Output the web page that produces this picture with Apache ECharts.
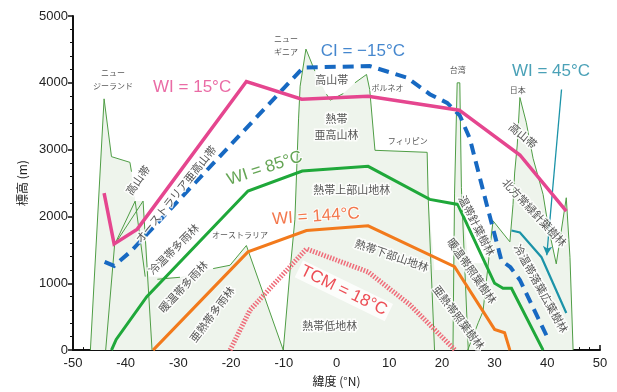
<!DOCTYPE html>
<html>
<head>
<meta charset="utf-8">
<script src="https://cdn.jsdelivr.net/npm/echarts@6/dist/echarts.min.js"></script>
<style>
html,body{margin:0;padding:0;background:#fff}
#chart{width:617px;height:392px}
</style>
</head>
<body>
<div id="chart"></div>
<script>
// Points are [latitude (°N), elevation (m)]

// Climate-index isolines
const wi15 = [[-44.1,2350],[-42.2,1590],[-37.8,1810],[-17.1,4020],[-6.6,3755],[6,3800],[23.3,3590],[34.8,2920],[43.6,2080]];
const ciMinus15 = [[-44,1320],[-42.2,1260],[-39,1480],[-6.3,4230],[6.3,4250],[13.3,4080],[17.7,3830],[21,3700],[23.4,3510],[25.3,3165],[28.5,2180],[31.3,1340],[33,1240],[34.8,1050],[40.2,160]];
const wi45 = [[33.2,1790],[34.8,1760],[38.9,1390],[43.6,555]];
const wi85 = [[-42.7,0],[-41.8,160],[-36,800],[-16.8,2380],[-6.5,2680],[6,2750],[17.7,2255],[23,2180],[30,1000],[31.6,925],[33.2,925],[39.2,0]];
const wi144 = [[-34.8,0],[-16.8,1470],[-5.7,1790],[6,1860],[22.4,1250],[30,310],[31.9,260],[32.9,0]];
const tcm18 = [[-20.2,0],[-16.4,600],[-5.7,1515],[6,1170],[13.9,680],[22.5,0]];

// Mountain profiles
const newZealand = [[-46.7,0],[-44.1,3760],[-42.7,2895],[-39.2,2810],[-38.9,2670]];
const ausAlpsA = [[-43.8,0],[-42.1,1580],[-36.7,2230],[-35.0,0]];
const ausAlpsB = [[-42.1,1580],[-38.2,2230],[-36.3,1100]];
const ausRidge = [[-34,1060],[-29.7,1090]];
const queensland = [[-23.4,1220],[-20.2,1270],[-17.1,1565],[-10.1,0]];
const newGuinea = [[-10.1,0],[-8.8,1200],[-7.9,1950],[-7.2,3460],[-6.9,3950],[-5.8,4505],[-4.1,4175]];
const newGuineaRidge = [[-1.9,3830],[-1.2,3740],[1.3,3840]];
const borneoPhilippines = [[3.5,4000],[5.7,4125],[6.3,3900],[7.3,2990],[17.2,2960],[17.4,2280],[18.6,0]];
const taiwan = [[22.1,0],[22.4,2350],[22.9,4000],[23.4,4000],[23.7,2430],[25.0,0]];
const japan = [[24.9,0],[26.9,410],[27.8,580],[29.7,1935],[32.9,1620],[33.5,2180],[33.8,2650],[34.3,3070],[34.8,3780],[36.0,3410],[37.3,2870],[39.2,2330],[40.2,1840],[41.7,1290],[43.6,2280],[44.3,1390],[44.9,0]];

// Shaded extent of the mountain terrain
const terrainShade = [[-46.7,0],[-44.1,3760],[-42.7,2895],[-39.2,2810],[-38.9,2670],[-38.2,2230],[-36.7,2230],[-35.6,1100],[-29.7,1090],[-23.4,1220],[-20.2,1270],[-17.1,1565],[-10.1,0],[-8.8,1200],[-7.9,1950],[-7.2,3460],[-6.9,3950],[-5.8,4505],[-4.1,4175],[-1.9,3830],[-1.2,3740],[1.3,3840],[3.5,4000],[5.7,4125],[6.3,3900],[7.3,2990],[17.2,2960],[17.4,2280],[18.6,1200],[22.1,1200],[22.4,2350],[22.9,4000],[23.4,4000],[23.7,2430],[25.0,1300],[27.8,1300],[29.7,1935],[32.9,1620],[33.5,2180],[33.8,2650],[34.3,3070],[34.8,3780],[36.0,3410],[37.3,2870],[39.2,2330],[40.2,1840],[41.7,1290],[43.6,2280],[44.3,1390],[44.9,0]];

// Leader from the WI = 45°C caption to its isoline
const wi45Leader = [[42.7,3900],[39.9,1420]];

const JP = '"Noto Sans CJK JP", "Noto Sans", sans-serif';
const LAT = '"Liberation Sans", Arial, sans-serif';

const colors = {
  wi15: '#e5468f', ci: '#1769c2', wi45: '#1b93a8', wi85: '#1fa83a',
  wi144: '#f27a1c', tcm: '#ef6d7a', profile: '#4f9d45', shade: '#eef4ec'
};

// Captions: text, anchor [lat, elev], rotation, colour
const isolineCaptions = [
  { text: 'WI = 15°C',  at: [-27.4,3935], rot: 0,   color: '#e5468f' },
  { text: 'CI = −15°C', at: [5.0,4465],   rot: 0,   color: '#1769c2' },
  { text: 'WI = 45°C',  at: [40.7,4170],  rot: 0,   color: '#1d8aa5' },
  { text: 'WI = 85°C',  at: [-13.6,2720], rot: 18,  color: '#3f8f2a' },
  { text: 'WI = 144°C', at: [-3.9,2000],  rot: 4,   color: '#f0551f' },
  { text: 'TCM = 18°C', at: [1.4,890],    rot: -26, color: '#e8202a', box: true }
];

const zoneCaptions = [
  { text: 'ニュー\nジーランド', at: [-42.4,4050], rot: 0, size: 8 },
  { text: '高山帯', at: [-37.7,2545], rot: 55, size: 11 },
  { text: 'オーストラリア亜高山帯', at: [-30.5,2335], rot: 51, size: 11 },
  { text: '冷温帯多雨林', at: [-30.9,1510], rot: 45, size: 11 },
  { text: '暖温帯多雨林', at: [-29.1,950], rot: 47, size: 11 },
  { text: '亜熱帯多雨林', at: [-23.6,535], rot: 53, size: 11 },
  { text: 'オーストラリア', at: [-18.3,1720], rot: 0, size: 8 },
  { text: 'ニュー\nギニア', at: [-9.6,4555], rot: 0, size: 8 },
  { text: '高山帯', at: [-0.9,4050], rot: 0, size: 11 },
  { text: '熱帯\n亜高山林', at: [0,3340], rot: 0, size: 11 },
  { text: 'ボルネオ', at: [9.7,3920], rot: 0, size: 8 },
  { text: 'フィリピン', at: [13.5,3135], rot: 0, size: 8 },
  { text: '熱帯上部山地林', at: [2.9,2400], rot: 0, size: 11 },
  { text: '熱帯下部山地林', at: [10.5,1420], rot: -19, size: 11 },
  { text: '熱帯低地林', at: [-1.3,360], rot: 0, size: 11 },
  { text: '台湾', at: [23.0,4200], rot: 0, size: 8 },
  { text: '日本', at: [34.4,3900], rot: 0, size: 8 },
  { text: '高山帯', at: [35.4,3210], rot: -40, size: 11 },
  { text: '北方常緑針葉樹林', at: [37.6,2060], rot: -47, size: 11 },
  { text: '冷温帯落葉広葉樹林', at: [38.8,920], rot: -61, size: 11 },
  { text: '温帯針葉樹林', at: [26.6,1865], rot: -63, size: 11 },
  { text: '暖温帯照葉樹林', at: [25.7,1185], rot: -55, size: 11 },
  { text: '亜熱帯照葉樹林', at: [23.2,490], rot: -53, size: 11 }
];

function profileSeries(data) {
  return {
    type: 'line', data: data, symbol: 'none', silent: true, z: 3,
    lineStyle: { color: colors.profile, width: 1 }
  };
}

function isoline(data, color, width, type) {
  return {
    type: 'line', data: data, symbol: 'none', silent: true, z: 5,
    lineStyle: { color: color, width: width, type: type || 'solid', cap: 'butt', join: 'miter' }
  };
}

const wi45Series = isoline(wi45, colors.wi45, 2.2);
wi45Series.markLine = {
  silent: true, animation: false,
  symbol: ['none', 'arrow'], symbolSize: [7, 9],
  label: { show: false },
  lineStyle: { color: colors.wi45, width: 1.3, type: 'solid' },
  data: [[{ coord: wi45Leader[0] }, { coord: wi45Leader[1] }]]
};

const chart = echarts.init(document.getElementById('chart'), null, { renderer: 'canvas' });

const option = {
  animation: false,
  backgroundColor: '#ffffff',
  grid: { left: 73, right: 17, top: 16, bottom: 38 },
  xAxis: {
    type: 'value', min: -50, max: 50, interval: 10,
    name: '緯度 (°N)', nameLocation: 'middle', nameGap: 22,
    nameTextStyle: { fontFamily: JP, fontSize: 12, color: '#222' },
    axisLine: { onZero: false, lineStyle: { color: '#111', width: 2 } },
    axisTick: { inside: true, length: 5, lineStyle: { color: '#111', width: 1.5 } },
    minorTick: { show: true, splitNumber: 5, length: 3, lineStyle: { color: '#111', width: 1 } },
    axisLabel: { fontFamily: LAT, fontSize: 13, color: '#222', margin: 7 },
    splitLine: { show: false }
  },
  yAxis: {
    type: 'value', min: 0, max: 5000, interval: 1000,
    name: '標高 (m)', nameLocation: 'middle', nameGap: 44, nameRotate: 90,
    nameTextStyle: { fontFamily: JP, fontSize: 12, color: '#222' },
    axisLine: { show: true, onZero: false, lineStyle: { color: '#111', width: 2 } },
    axisTick: { show: true, inside: false, length: 5, lineStyle: { color: '#111', width: 1.5 } },
    minorTick: { show: true, splitNumber: 5, length: 3, lineStyle: { color: '#111', width: 1 } },
    axisLabel: { fontFamily: LAT, fontSize: 13, color: '#222', margin: 5, formatter: function (v) { return String(v); } },
    splitLine: { show: false }
  },
  series: [
    {
      type: 'line', data: terrainShade, symbol: 'none', silent: true, z: 1,
      lineStyle: { width: 0, opacity: 0 },
      areaStyle: { color: colors.shade, opacity: 1 }
    },
    profileSeries(newZealand),
    profileSeries(ausAlpsA),
    profileSeries(ausAlpsB),
    profileSeries(ausRidge),
    profileSeries(queensland),
    profileSeries(newGuinea),
    profileSeries(newGuineaRidge),
    profileSeries(borneoPhilippines),
    profileSeries(taiwan),
    profileSeries(japan),
    isoline(tcm18, colors.tcm, 5, [1.5, 1.5]),
    isoline(wi144, colors.wi144, 3),
    isoline(wi85, colors.wi85, 3),
    wi45Series,
    isoline(ciMinus15, colors.ci, 4, [11, 7]),
    isoline(wi15, colors.wi15, 3.5),
    {
      type: 'scatter', symbolSize: 0, silent: true, z: 10,
      data: zoneCaptions.map(function (c) {
        return {
          value: c.at,
          label: {
            show: true, position: 'inside', formatter: c.text, rotate: c.rot,
            fontFamily: JP, fontSize: c.size, color: '#2b2b2b', lineHeight: c.size + 5,
            textBorderColor: '#ffffff', textBorderWidth: 3, align: 'center'
          }
        };
      })
    },
    {
      type: 'scatter', symbolSize: 0, silent: true, z: 11,
      data: isolineCaptions.map(function (c) {
        return {
          value: c.at,
          label: {
            show: true, position: 'inside', formatter: c.text, rotate: c.rot,
            fontFamily: LAT, fontSize: 17, color: c.color,
            backgroundColor: c.box ? '#ffffff' : 'transparent',
            padding: c.box ? [1, 3] : 0,
            textBorderColor: c.box ? 'transparent' : '#ffffff',
            textBorderWidth: c.box ? 0 : 2
          }
        };
      })
    }
  ]
};

chart.setOption(option);
</script>
</body>
</html>
